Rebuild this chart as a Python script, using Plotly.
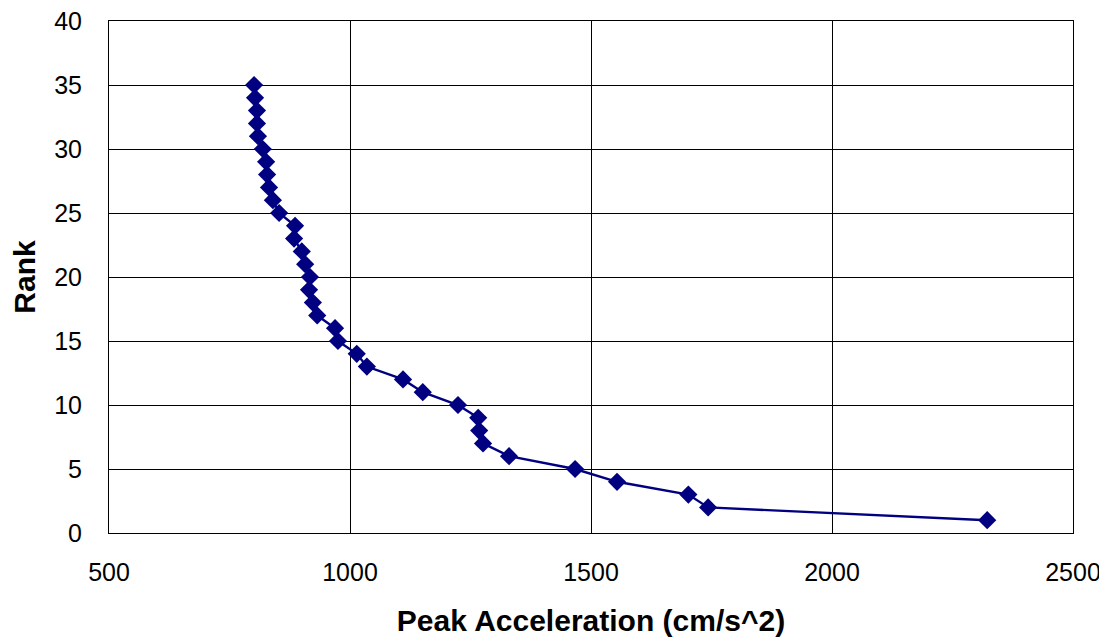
import plotly.graph_objects as go

rank = list(range(1, 36))
peak_accel = [2322, 1743, 1702, 1554, 1467, 1330, 1276, 1268, 1266, 1224,
              1151, 1110, 1035, 1014, 975, 969, 932, 923, 915, 917,
              907, 900, 884, 886, 853, 840, 832, 828, 826, 819,
              809, 807, 807, 803, 801]

x_ticks = [500, 1000, 1500, 2000, 2500]
y_ticks = [0, 5, 10, 15, 20, 25, 30, 35, 40]

navy = "#000080"

fig = go.Figure()
fig.add_trace(go.Scatter(
    x=peak_accel, y=rank, mode="lines+markers",
    line=dict(color=navy, width=2.4),
    marker=dict(symbol="diamond", size=14, color=navy),
    showlegend=False,
))

font_family = "Arial, Liberation Sans, sans-serif"
# page body has an 8px default margin; margins are shifted to compensate
fig.update_layout(
    width=1107, height=641,
    margin=dict(l=101, r=42, t=13, b=116),
    paper_bgcolor="white", plot_bgcolor="white",
    font=dict(family=font_family, size=25, color="black"),
)
fig.update_xaxes(
    range=[500, 2500], tickvals=x_ticks, ticks="",
    showgrid=True, gridcolor="black", gridwidth=1,
    showline=True, linecolor="black", linewidth=1, mirror=True,
    zeroline=False, ticklabelstandoff=17, automargin=False,
    ticklabeloverflow="allow",
    tickfont=dict(size=25),
    title=dict(text="<b>Peak Acceleration (cm/s^2)</b>", font=dict(size=30), standoff=24),
)
fig.update_yaxes(
    range=[0, 40], tickvals=y_ticks, ticks="",
    showgrid=True, gridcolor="black", gridwidth=1,
    showline=True, linecolor="black", linewidth=1, mirror=True,
    zeroline=False, ticklabelstandoff=21, automargin=False,
    ticklabeloverflow="allow",
    tickfont=dict(size=25),
    title=dict(text="<b>Rank</b>", font=dict(size=30), standoff=12),
)

fig.write_html("out.html")
